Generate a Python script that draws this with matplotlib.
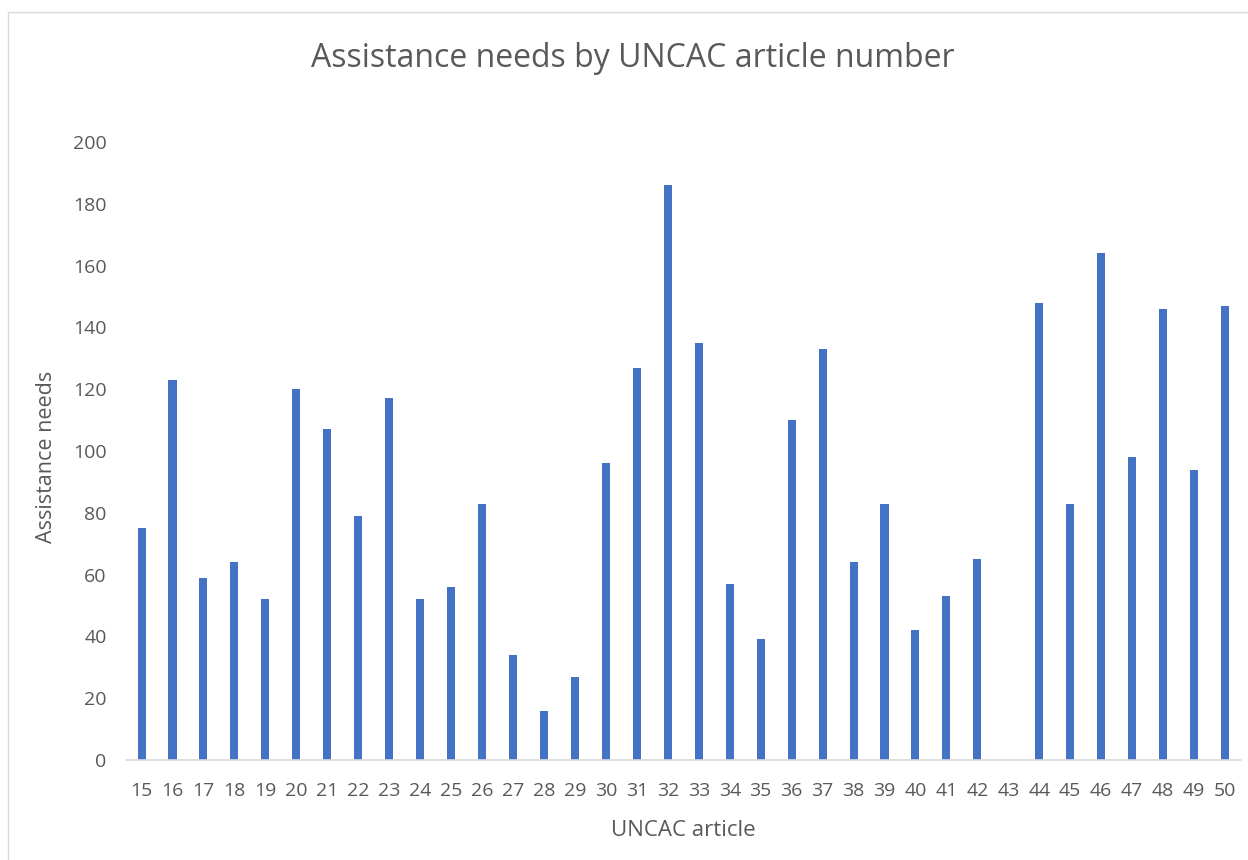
import matplotlib.pyplot as plt
from matplotlib.patches import Rectangle

articles = [str(a) for a in range(15, 51)]
needs = [75, 123, 59, 64, 52, 120, 107, 79, 117, 52, 56, 83, 34, 16, 27, 96,
         127, 186, 135, 57, 39, 110, 133, 64, 83, 42, 53, 65, 0, 148, 83, 164,
         98, 146, 94, 147]

plt.rcParams['font.family'] = ['Open Sans', 'DejaVu Sans']
text_col = '#595959'

fig = plt.figure(figsize=(12.48, 8.6), dpi=100)
# light frame of the chart area
fig.patches.append(Rectangle((8 / 1248, -0.01), 1.1, 1 - 12 / 860 + 0.01,
                             transform=fig.transFigure, fill=False,
                             edgecolor='#d9d9d9', linewidth=1))
ax = fig.add_axes([0.101, 0.1163, 0.893, 0.7186])

x = range(len(articles))
ax.bar(x, needs, width=0.26, color='#4472c4')

ax.set_xlim(-0.5, len(articles) - 0.5)
ax.set_ylim(0, 200)
ax.set_yticks(range(0, 201, 20))
ax.set_xticks(list(x))
ax.set_xticklabels(articles)
ax.tick_params(length=0, labelsize=14, colors=text_col)
ax.tick_params(axis='x', pad=16)
ax.tick_params(axis='y', pad=14)

for s in ['top', 'right', 'left']:
    ax.spines[s].set_visible(False)
ax.spines['bottom'].set_color('#d9d9d9')
ax.spines['bottom'].set_linewidth(1.2)

ax.set_xlabel('UNCAC article', fontsize=16, color=text_col, labelpad=14)
ax.set_ylabel('Assistance needs', fontsize=15.5, color=text_col)
ax.yaxis.set_label_coords(-0.062, 0.49)
fig.text(0.507, 1 - 67 / 860, 'Assistance needs by UNCAC article number',
         ha='center', va='baseline', fontsize=23, color=text_col)

fig.savefig('out.png', dpi=100)
